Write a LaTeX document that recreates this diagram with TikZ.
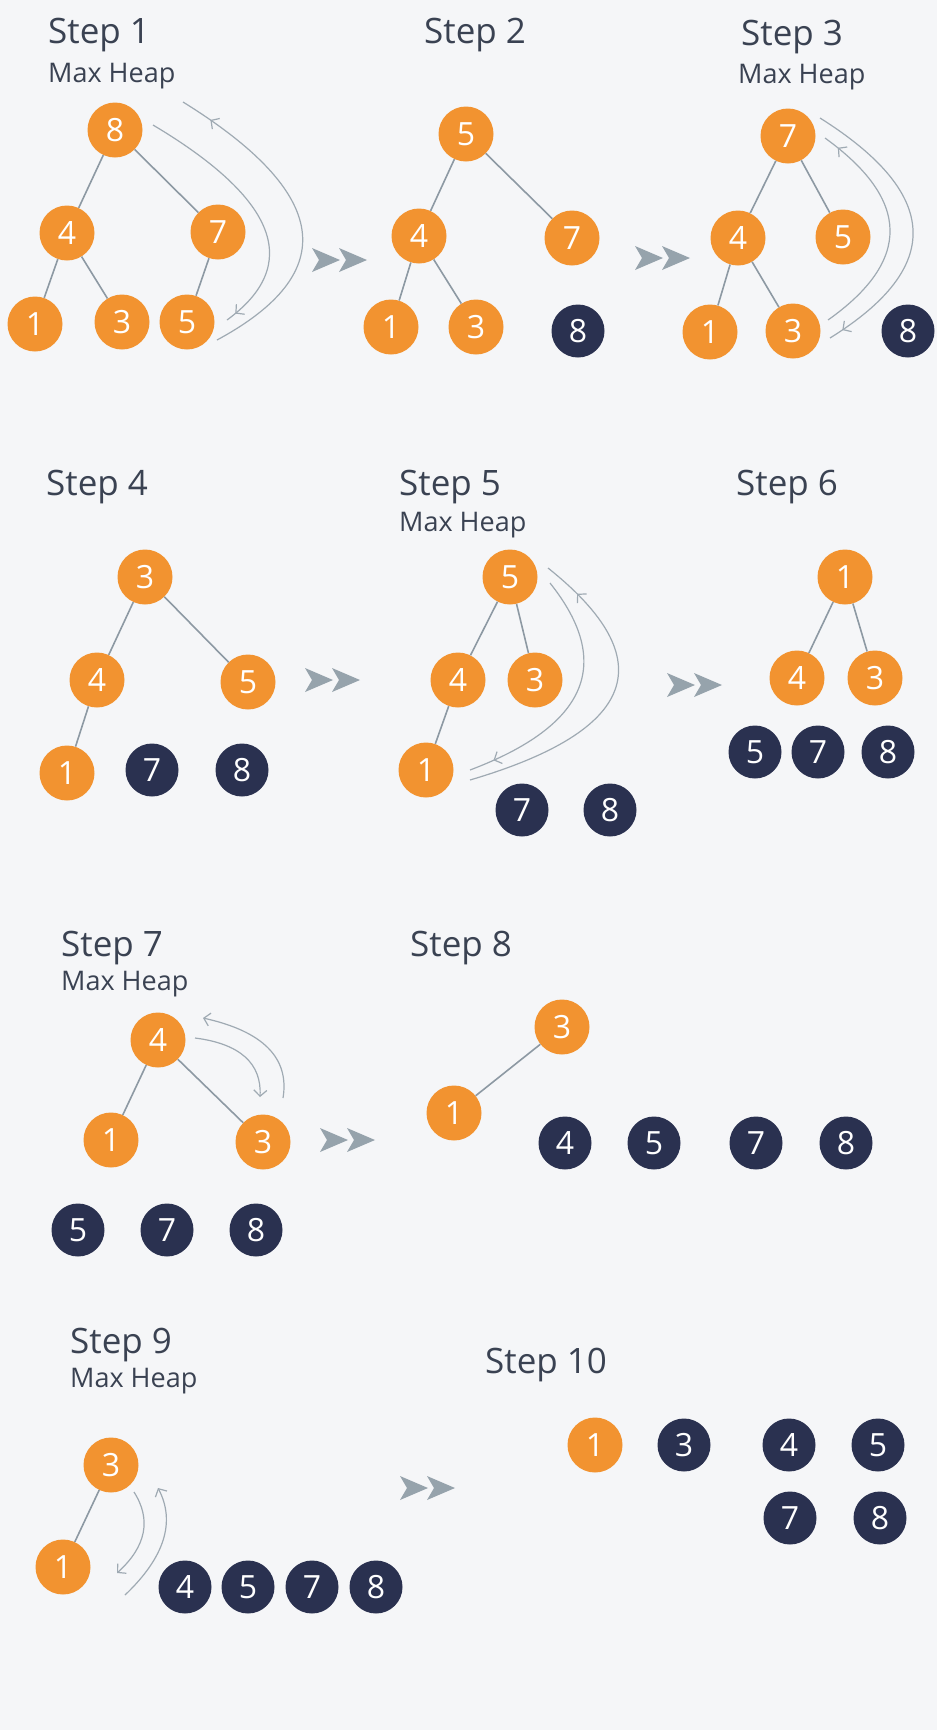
\documentclass[tikz,border=0pt]{standalone}
\usepackage{fontspec}
\setmainfont{Open Sans}
\usetikzlibrary{arrows.meta,decorations.markings}
\definecolor{bgc}{HTML}{F5F6F8}
\definecolor{org}{HTML}{F29330}
\definecolor{navy}{HTML}{2A3150}
\definecolor{txt}{HTML}{3A4252}
\definecolor{edgec}{HTML}{8D99A3}
\definecolor{swapc}{HTML}{9FAAB3}
\definecolor{fwdc}{HTML}{96A3AC}
\tikzset{
  onode/.style={circle,fill=org,minimum size=55pt,inner sep=0pt,text=white,font=\fontsize{32}{32}\selectfont},
  dnode/.style={onode,fill=navy,minimum size=53pt},
  title/.style={anchor=base west,inner sep=0pt,text=txt,font=\fontsize{35}{40}\selectfont},
  sub/.style={anchor=base west,inner sep=0pt,text=txt,font=\fontsize{27}{30}\selectfont},
  edge/.style={draw=edgec,line width=1.6pt},
  swaparc/.style={draw=swapc,line width=1.2pt},
  barb/.tip={Straight Barb[length=6pt,width=13pt,line width=1.2pt,color=swapc]},
  tipat/.style={postaction={decorate},decoration={markings,mark=at position #1 with {\arrow{barb}}}},
  fwd/.pic={\fill[fwdc] (0,-12) -- (28,0) -- (0,12) -- (7,0) -- cycle;
            \fill[fwdc] (27,-12) -- (55,0) -- (27,12) -- (34,0) -- cycle;}
}
\begin{document}
\begin{tikzpicture}[x=1pt,y=-1pt]
\useasboundingbox (0,0) rectangle (937,1730);
\fill[bgc] (0,0) rectangle (937,1730);

% ---------- Step 1 ----------
\node[title] (t1) at (48,43) {Step 1};
\node[sub] (m1) at (48,82) {Max Heap};
\node[onode] (a8) at (115,130) {8};
\node[onode] (a4) at (67,233) {4};
\node[onode] (a7) at (218,232) {7};
\node[onode] (a1) at (35,324) {1};
\node[onode] (a3) at (122,322) {3};
\node[onode] (a5) at (187,322) {5};
\draw[edge] (a8) -- (a4); \draw[edge] (a8) -- (a7);
\draw[edge] (a4) -- (a1); \draw[edge] (a4) -- (a3);
\draw[edge] (a7) -- (a5);
\coordinate (s1a) at (217,340); \coordinate (e1a) at (183,102);
\coordinate (s1b) at (153,125); \coordinate (e1b) at (227,320);
\draw[swaparc,tipat=0.9] (s1a) .. controls (341.7,272.7) and (330.3,193.3) .. (e1a);
\draw[swaparc,tipat=0.96] (s1b) .. controls (277.7,199.3) and (302.3,265) .. (e1b);
\pic at (312,260) {fwd};

% ---------- Step 2 ----------
\node[title] (t2) at (424,43) {Step 2};
\node[onode] (b5) at (466,134) {5};
\node[onode] (b4) at (419,236) {4};
\node[onode] (b7) at (572,238) {7};
\node[onode] (b1) at (391,327) {1};
\node[onode] (b3) at (476,327) {3};
\node[dnode] (b8) at (578,331) {8};
\draw[edge] (b5) -- (b4); \draw[edge] (b5) -- (b7);
\draw[edge] (b4) -- (b1); \draw[edge] (b4) -- (b3);
\pic at (635,258) {fwd};

% ---------- Step 3 ----------
\node[title] (t3) at (741,45) {Step 3};
\node[sub] (m3) at (738,83) {Max Heap};
\node[onode] (c7) at (788,136) {7};
\node[onode] (c4) at (738,238) {4};
\node[onode] (c5) at (843,237) {5};
\node[onode] (c1) at (710,332) {1};
\node[onode] (c3) at (793,331) {3};
\node[dnode] (c8) at (908,331) {8};
\draw[edge] (c7) -- (c4); \draw[edge] (c7) -- (c5);
\draw[edge] (c4) -- (c1); \draw[edge] (c4) -- (c3);
\coordinate (s3a) at (820,118); \coordinate (e3a) at (830,338);
\coordinate (s3b) at (828,320); \coordinate (e3b) at (825,138);
\draw[swaparc,tipat=0.95] (s3a) .. controls (940.7,194) and (944,267.3) .. (e3a);
\draw[swaparc,tipat=0.93] (s3b) .. controls (911.7,260.7) and (910.7,200) .. (e3b);

% ---------- Step 4 ----------
\node[title] (t4) at (46,495) {Step 4};
\node[onode] (d3) at (145,577) {3};
\node[onode] (d4) at (97,680) {4};
\node[onode] (d5) at (248,682) {5};
\node[onode] (d1) at (67,773) {1};
\node[dnode] (d7) at (152,770) {7};
\node[dnode] (d8) at (242,770) {8};
\draw[edge] (d3) -- (d4); \draw[edge] (d3) -- (d5);
\draw[edge] (d4) -- (d1);
\pic at (305,680) {fwd};

% ---------- Step 5 ----------
\node[title] (t5) at (399,495) {Step 5};
\node[sub] (m5) at (399,531) {Max Heap};
\node[onode] (e5) at (510,577) {5};
\node[onode] (e4) at (458,680) {4};
\node[onode] (e3) at (535,680) {3};
\node[onode] (e1) at (426,770) {1};
\node[dnode] (e7) at (522,810) {7};
\node[dnode] (e8) at (610,810) {8};
\draw[edge] (e5) -- (e4); \draw[edge] (e5) -- (e3);
\draw[edge] (e4) -- (e1);
\coordinate (s5a) at (470,780); \coordinate (e5a) at (548,568);
\coordinate (s5b) at (550,583); \coordinate (e5b) at (470,770);
\draw[swaparc,tipat=0.88] (s5a) .. controls (637.3,730.7) and (663.3,660) .. (e5a);
\draw[swaparc,tipat=0.9] (s5b) .. controls (614,663.3) and (587.3,725.7) .. (e5b);
\pic at (667,685) {fwd};

% ---------- Step 6 ----------
\node[title] (t6) at (736,495) {Step 6};
\node[onode] (f1) at (845,577) {1};
\node[onode] (f4) at (797,678) {4};
\node[onode] (f3) at (875,678) {3};
\node[dnode] (f5) at (755,752) {5};
\node[dnode] (f7) at (818,752) {7};
\node[dnode] (f8) at (888,752) {8};
\draw[edge] (f1) -- (f4); \draw[edge] (f1) -- (f3);

% ---------- Step 7 ----------
\node[title] (t7) at (61,956) {Step 7};
\node[sub] (m7) at (61,990) {Max Heap};
\node[onode] (g4) at (158,1040) {4};
\node[onode] (g1) at (111,1140) {1};
\node[onode] (g3) at (263,1142) {3};
\node[dnode] (g5) at (78,1230) {5};
\node[dnode] (g7) at (167,1230) {7};
\node[dnode] (g8) at (256,1230) {8};
\draw[edge] (g4) -- (g1); \draw[edge] (g4) -- (g3);
\coordinate (s7a) at (283,1098); \coordinate (e7a) at (203,1018);
\coordinate (s7b) at (195,1038); \coordinate (e7b) at (260,1097);
\draw[swaparc,-{barb}] (s7a) .. controls (289.7,1058) and (263,1031.3) .. (e7a);
\draw[swaparc,-{barb}] (s7b) .. controls (240,1043.7) and (261.7,1063.3) .. (e7b);
\pic at (320,1140) {fwd};

% ---------- Step 8 ----------
\node[title] (t8) at (410,956) {Step 8};
\node[onode] (h3) at (562,1027) {3};
\node[onode] (h1) at (454,1113) {1};
\node[dnode] (h4) at (565,1143) {4};
\node[dnode] (h5) at (654,1143) {5};
\node[dnode] (h7) at (756,1143) {7};
\node[dnode] (h8) at (846,1143) {8};
\draw[edge] (h3) -- (h1);

% ---------- Step 9 ----------
\node[title] (t9) at (70,1353) {Step 9};
\node[sub] (m9) at (70,1387) {Max Heap};
\node[onode] (i3) at (111,1465) {3};
\node[onode] (i1) at (63,1567) {1};
\node[dnode] (i4) at (185,1587) {4};
\node[dnode] (i5) at (248,1587) {5};
\node[dnode] (i7) at (312,1587) {7};
\node[dnode] (i8) at (376,1587) {8};
\draw[edge] (i3) -- (i1);
\coordinate (s9a) at (134,1492); \coordinate (e9a) at (117,1573);
\coordinate (s9b) at (125,1595); \coordinate (e9b) at (158,1488);
\draw[swaparc,-{barb}] (s9a) .. controls (151.7,1519.7) and (146,1546.7) .. (e9a);
\draw[swaparc,-{barb}] (s9b) .. controls (164.7,1557.3) and (175.7,1521.7) .. (e9b);
\pic at (400,1488) {fwd};

% ---------- Step 10 ----------
\node[title] (t10) at (485,1373) {Step 10};
\node[onode] (j1) at (595,1445) {1};
\node[dnode] (j3) at (684,1445) {3};
\node[dnode] (j4) at (789,1445) {4};
\node[dnode] (j5) at (878,1445) {5};
\node[dnode] (j7) at (790,1518) {7};
\node[dnode] (j8) at (880,1518) {8};
\end{tikzpicture}
\end{document}
